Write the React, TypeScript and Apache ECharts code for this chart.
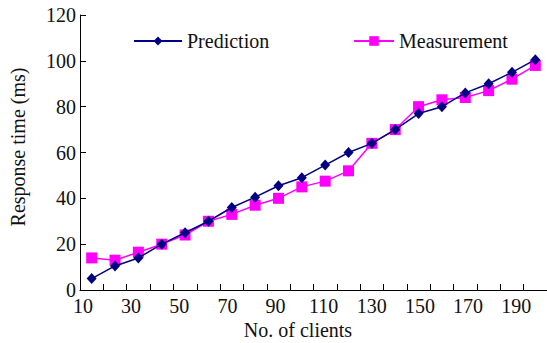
import React, { useEffect, useRef } from "react";
import * as echarts from "echarts";

const clients = [15, 25, 35, 45, 55, 65, 75, 85, 95, 105, 115, 125, 135, 145, 155, 165, 175, 185, 195, 205];
const prediction = [5, 10.5, 14, 20, 25, 30, 36, 40.5, 45.5, 49, 54.5, 60, 64, 70, 77, 80, 86, 90, 95, 100.5];
const measurement = [14, 13, 16.5, 20, 24, 30, 33, 37, 40, 45, 47.5, 52, 64, 70, 80, 83, 84, 87, 92, 98];
const xLabels = [10, 30, 50, 70, 90, 110, 130, 150, 170, 190];
const yTicks = [0, 20, 40, 60, 80, 100, 120];

const FONT = "'Liberation Serif', 'Times New Roman', serif";

export default function App() {
  const ref = useRef<HTMLDivElement>(null);
  useEffect(() => {
    if (!ref.current) return;
    const chart = echarts.init(ref.current, null, { renderer: "svg" });
    chart.setOption({
      animation: false,
      backgroundColor: "#ffffff",
      grid: { left: 80, top: 15, width: 472, height: 275 },
      legend: [
        {
          data: ["Prediction"],
          left: 128,
          top: 26,
          itemWidth: 48,
          itemHeight: 11,
          itemGap: 8,
          textStyle: { fontFamily: FONT, fontSize: 20, color: "#111" },
        },
        {
          data: ["Measurement"],
          left: 348,
          top: 26,
          itemWidth: 40,
          itemHeight: 12,
          itemGap: 8,
          textStyle: { fontFamily: FONT, fontSize: 20, color: "#111" },
        },
      ],
      xAxis: [
        {
          type: "value",
          min: 10,
          max: 210,
          interval: 10,
          axisLine: { lineStyle: { color: "#000", width: 1 } },
          axisTick: { show: true, inside: true, length: 6, lineStyle: { color: "#000", width: 1 } },
          splitLine: { show: false },
          axisLabel: { show: false },
          z: 5,
        },
        {
          type: "value",
          position: "bottom",
          min: 8.77,
          max: 202.77,
          axisLine: { show: false },
          axisTick: { show: false },
          splitLine: { show: false },
          axisLabel: {
            customValues: xLabels,
            fontFamily: FONT,
            fontSize: 20,
            lineHeight: 18,
            color: "#111",
            margin: 7,
          },
        },
      ],
      yAxis: {
        type: "value",
        min: yTicks[0],
        max: yTicks[yTicks.length - 1],
        interval: 20,
        axisLine: { show: true, lineStyle: { color: "#000", width: 1 } },
        axisTick: { show: true, inside: true, length: 6, lineStyle: { color: "#000" } },
        splitLine: { show: false },
        axisLabel: { fontFamily: FONT, fontSize: 20, lineHeight: 14, color: "#111", margin: 4 },
      },
      graphic: [
        {
          type: "text",
          x: 18,
          y: 147,
          rotation: Math.PI / 2,
          style: {
            text: "Response time (ms)",
            font: `20px ${FONT}`,
            fill: "#111",
            align: "center",
            verticalAlign: "middle",
          },
        },
        {
          type: "text",
          x: 298,
          y: 330,
          style: {
            text: "No. of clients",
            font: `20px ${FONT}`,
            fill: "#111",
            align: "center",
            verticalAlign: "middle",
          },
        },
      ],
      series: [
        {
          name: "Prediction",
          type: "line",
          xAxisIndex: 0,
          data: clients.map((c, i) => [c, prediction[i]]),
          symbol: "diamond",
          symbolSize: [10, 11],
          lineStyle: { color: "#000080", width: 1.5 },
          itemStyle: { color: "#000080" },
          z: 3,
        },
        {
          name: "Measurement",
          type: "line",
          xAxisIndex: 0,
          data: clients.map((c, i) => [c, measurement[i]]),
          symbol: "rect",
          symbolSize: 11,
          lineStyle: { color: "#ff00ff", width: 1.5 },
          itemStyle: { color: "#ff00ff" },
          z: 2,
        },
      ],
    });
    return () => chart.dispose();
  }, []);
  return (
    <div
      ref={ref}
      style={{ position: "absolute", left: 0, top: 0, width: 547, height: 343 }}
    />
  );
}
